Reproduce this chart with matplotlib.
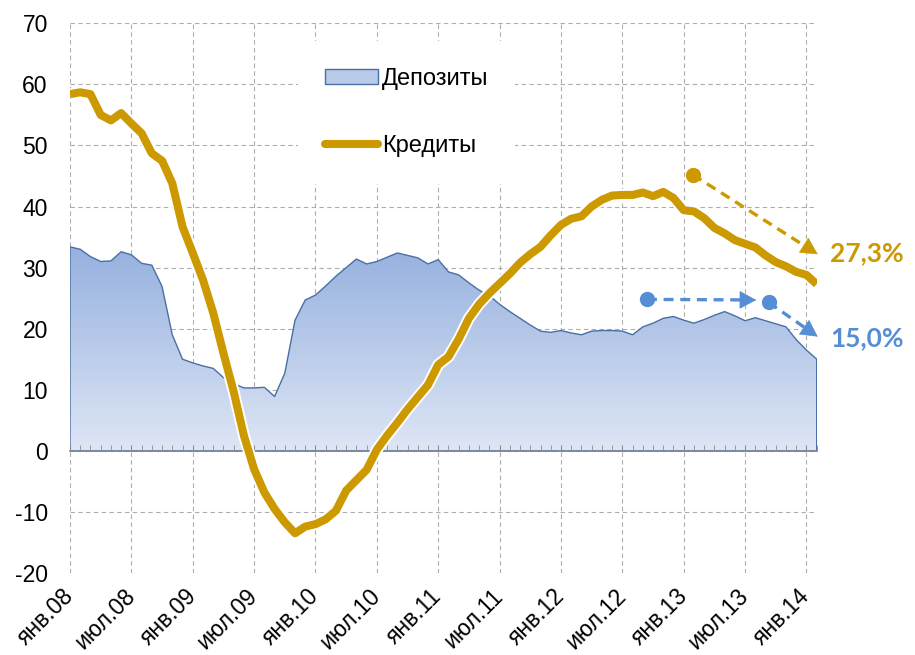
import numpy as np
import matplotlib
matplotlib.use('Agg')
import matplotlib.pyplot as plt
from matplotlib.patches import Patch
from matplotlib.lines import Line2D
from matplotlib.colors import LinearSegmentedColormap
from matplotlib.ticker import MultipleLocator
import matplotlib.patheffects as pe

plt.rcParams['font.family'] = ['Liberation Sans', 'DejaVu Sans']
plt.rcParams['axes.unicode_minus'] = False

# monthly data, Jan 2008 .. Feb 2014
deposits = [33.4, 33.0, 31.8, 31.0, 31.1, 32.6, 32.1, 30.7, 30.4, 26.9,
            19.0, 15.0, 14.4, 13.9, 13.5, 12.0, 11.0, 10.3, 10.3, 10.4,
            8.9, 12.7, 21.4, 24.7, 25.5, 27.0, 28.6, 30.0, 31.4, 30.6,
            31.0, 31.7, 32.4, 32.0, 31.6, 30.6, 31.3, 29.3, 28.8, 27.5,
            26.3, 25.4, 24.0, 22.8, 21.7, 20.6, 19.6, 19.4, 19.7, 19.3,
            19.0, 19.6, 19.7, 19.7, 19.6, 19.0, 20.3, 20.9, 21.7, 22.0,
            21.4, 20.9, 21.5, 22.2, 22.8, 22.1, 21.3, 21.8, 21.3, 20.8,
            20.3, 18.2, 16.5, 15.0]
credits = [58.4, 58.7, 58.4, 55.0, 54.1, 55.3, 53.6, 52.0, 48.7, 47.5,
           43.8, 36.7, 32.4, 28.0, 22.6, 16.0, 9.7, 2.5, -3.0, -6.8,
           -9.5, -11.7, -13.5, -12.4, -12.0, -11.2, -9.8, -6.5, -4.8, -3.1,
           0.2, 2.5, 4.6, 6.8, 8.8, 10.8, 14.1, 15.4, 18.3, 21.7,
           24.0, 25.8, 27.4, 29.0, 30.8, 32.2, 33.4, 35.3, 37.0, 38.0,
           38.4, 40.0, 41.1, 41.8, 41.9, 41.9, 42.3, 41.7, 42.4, 41.4,
           39.4, 39.2, 38.1, 36.5, 35.6, 34.5, 33.9, 33.3, 32.0, 30.9,
           30.2, 29.3, 28.8, 27.3]
tick_labels = ['янв.08', 'июл.08', 'янв.09', 'июл.09', 'янв.10', 'июл.10',
               'янв.11', 'июл.11', 'янв.12', 'июл.12', 'янв.13', 'июл.13', 'янв.14']
series_names = ['Депозиты', 'Кредиты']
credit_label = '27,3%'
deposit_label = '15,0%'

# annotation arrow anchors (data units)
gold_arrow = [(60.9, 45.2), (73.1, 32.2)]
blue_arrow1 = [(56.4, 24.8), (67.1, 24.7)]
blue_arrow2 = [(68.3, 24.3), (73.1, 18.7)]
gold_text_pos = (74.3, 32.4)
blue_text_pos = (74.3, 18.4)

GOLD = '#CC9900'
BLUE = '#558ED5'
EDGE = '#4A6FA5'
YMIN, YMAX = -20, 70

n = len(credits)
x = np.arange(n)
tick_pos = np.arange(0, n, 6)

fig = plt.figure(figsize=(9.15, 6.55), dpi=100)
ax = fig.add_axes([70 / 915, 1 - 573 / 655, 746.7 / 915, (573 - 23.3) / 655])

# deposits area with vertical gradient
fill = ax.fill_between(x, 0, deposits, facecolor='none', edgecolor=EDGE, lw=1.0, zorder=2.2)
cmap = LinearSegmentedColormap.from_list('g', ['#DEE6F5', '#96B1DF'])
grad = np.linspace(1, 0, 256).reshape(-1, 1)
im = ax.imshow(grad, cmap=cmap, extent=[0, n - 1, 0, max(deposits)], aspect='auto',
               origin='upper', zorder=2.0, interpolation='bilinear')
im.set_clip_path(fill.get_paths()[0], transform=ax.transData)

# credits line
ax.plot(x, credits, color=GOLD, lw=5.8, solid_joinstyle='round', solid_capstyle='butt', zorder=3,
        path_effects=[pe.Stroke(linewidth=8.5, foreground='white'), pe.Normal()])

ax.set_xlim(0, n - 1)
ax.set_ylim(YMIN, YMAX)
ax.set_yticks(range(YMIN, YMAX + 1, 10))
ax.set_xticks(tick_pos)
ax.set_axisbelow(True)
ax.grid(True, which='major', ls=(0, (4, 3)), color='#ADADAD', lw=0.8)

for s in ['left', 'top', 'right', 'bottom']:
    ax.spines[s].set_visible(False)
ax.tick_params(axis='x', which='both', length=0, labelbottom=False)
ax.tick_params(axis='y', length=0, pad=16, labelsize=16.5)

# zero line with monthly tick marks
zero = ax.secondary_xaxis((0 - YMIN) / (YMAX - YMIN))
zero.set_xticks(tick_pos)
zero.xaxis.set_minor_locator(MultipleLocator(1))
zero.tick_params(which='both', direction='in', length=4, color='#8C8C8C', labelbottom=False)
zero.spines['bottom'].set_color('#7F8CA0')
zero.spines['bottom'].set_linewidth(1.2)
zero.set_zorder(2.5)

# date labels at the bottom
sec = ax.secondary_xaxis('bottom')
sec.set_xticks(tick_pos, tick_labels)
sec.tick_params(length=0, pad=14, labelsize=16.5)
sec.spines['bottom'].set_visible(False)
for lab in sec.get_xticklabels():
    lab.set_rotation(45)
    lab.set_ha('right')
    lab.set_va('center')
    lab.set_rotation_mode('anchor')

# legend
handles = [Patch(facecolor='#BACBEA', edgecolor=EDGE, lw=1),
           Line2D([], [], color=GOLD, lw=5.8, solid_capstyle='round')]
ax.legend(handles, series_names, loc='upper left', bbox_to_anchor=(286 / 915, 1 - 29 / 655),
          bbox_transform=fig.transFigure, frameon=True, facecolor='white', edgecolor='none',
          framealpha=1, fancybox=False, fontsize=17, handlelength=2.25, handleheight=0.55,
          handletextpad=0.15, labelspacing=1.9, borderpad=1.15)

# annotations: dashed shaft + solid head
def arrow(p0, p1, color):
    p0 = np.asarray(p0, float)
    p1 = np.asarray(p1, float)
    base = p1 - 0.06 * (p1 - p0)
    ax.plot([p0[0], base[0]], [p0[1], base[1]], ls=(0, (3, 2)), lw=2.4, color=color,
            zorder=4, clip_on=False)
    ax.annotate('', xy=tuple(p1), xytext=tuple(base),
                arrowprops=dict(arrowstyle='-|>,head_length=0.75,head_width=0.4', lw=0.5,
                                color=color, mutation_scale=15, shrinkA=0, shrinkB=0),
                annotation_clip=False, zorder=4)

arrow(*gold_arrow, GOLD)
arrow(*blue_arrow1, BLUE)
arrow(*blue_arrow2, BLUE)
for p, c in [(gold_arrow[0], GOLD), (blue_arrow1[0], BLUE), (blue_arrow2[0], BLUE)]:
    ax.plot([p[0]], [p[1]], 'o', ms=10, color=c, zorder=5, clip_on=False)

ax.text(*gold_text_pos, credit_label, color=GOLD, fontsize=19, fontweight='bold',
        family=['Lato', 'DejaVu Sans'], va='center', ha='left', clip_on=False)
ax.text(*blue_text_pos, deposit_label, color=BLUE, fontsize=19, fontweight='bold',
        family=['Lato', 'DejaVu Sans'], va='center', ha='left', clip_on=False)

fig.savefig('out.png', dpi=100)
